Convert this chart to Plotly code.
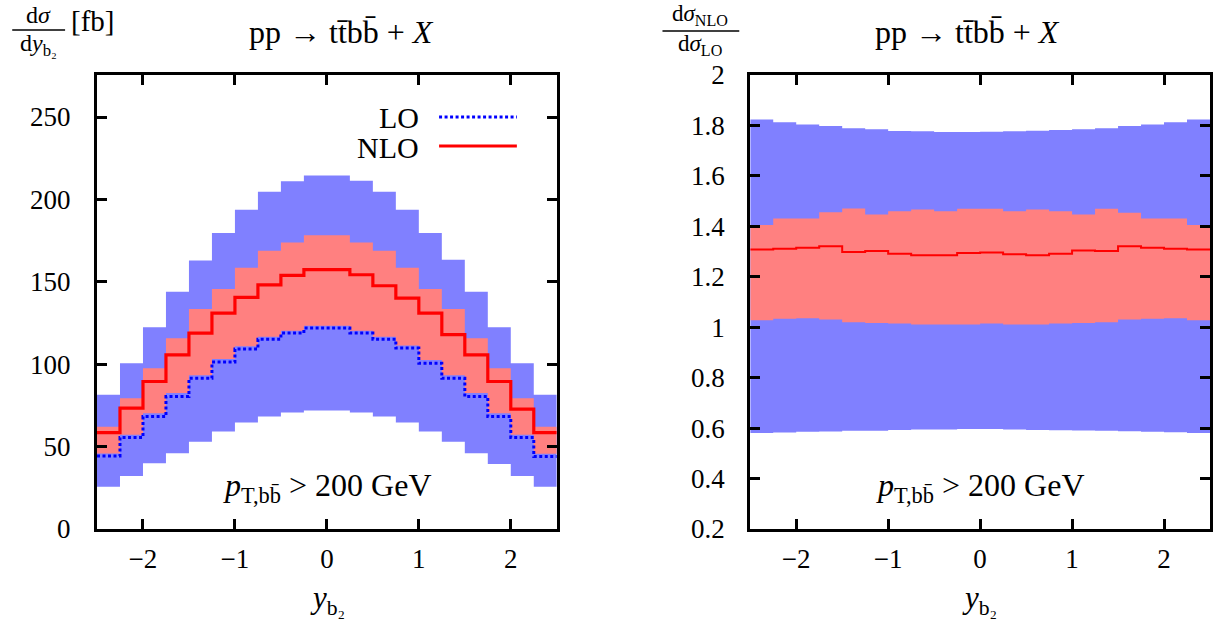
import plotly.graph_objects as go

# ---------------- data ----------------
bin_edges = [-2.5, -2.25, -2.0, -1.75, -1.5, -1.25, -1.0, -0.75, -0.5, -0.25, 0.0,
             0.25, 0.5, 0.75, 1.0, 1.25, 1.5, 1.75, 2.0, 2.25, 2.5]

lo_central = [44.3, 55.5, 68.2, 80.4, 91.5, 101.3, 109.2, 115.2, 118.9, 121.9,
              121.9, 118.9, 115.2, 109.8, 100.6, 91.5, 80.4, 68.2, 55.5, 44.0]
lo_upper = [81.4, 100.6, 122.5, 144.0, 163.0, 179.6, 193.8, 204.6, 211.0, 214.5,
            214.5, 211.4, 204.6, 193.8, 179.6, 163.4, 144.0, 122.5, 100.6, 81.4]
lo_lower = [25.7, 32.2, 39.9, 46.0, 53.0, 59.1, 64.6, 68.2, 70.7, 71.9,
            71.9, 70.7, 68.2, 64.6, 59.1, 53.0, 46.0, 39.5, 32.2, 25.7]
nlo_central = [58.5, 73.3, 89.5, 105.7, 118.9, 131.0, 140.5, 148.2, 153.9, 157.4,
               157.4, 154.3, 147.6, 140.1, 131.0, 117.9, 105.7, 89.5, 72.7, 58.5]
nlo_upper = [62.0, 79.4, 97.6, 115.8, 133.5, 145.6, 158.6, 168.9, 173.9, 178.2,
             178.2, 173.9, 168.9, 158.6, 145.6, 133.5, 115.8, 97.6, 79.4, 62.0]
nlo_lower = [45.8, 57.2, 70.2, 82.5, 93.3, 103.2, 110.9, 116.7, 120.3, 123.3,
             123.3, 120.3, 116.7, 111.3, 102.5, 93.3, 82.5, 70.2, 57.2, 45.6]

ratio_lo_upper = [1.824, 1.813, 1.804, 1.798, 1.789, 1.785, 1.778, 1.777, 1.774, 1.774,
                  1.775, 1.777, 1.779, 1.782, 1.785, 1.789, 1.798, 1.804, 1.813, 1.824]
ratio_lo_lower = [0.581, 0.583, 0.586, 0.587, 0.590, 0.590, 0.593, 0.594, 0.594, 0.596,
                  0.596, 0.594, 0.593, 0.592, 0.591, 0.590, 0.588, 0.586, 0.584, 0.581]
ratio_nlo_upper = [1.405, 1.431, 1.431, 1.456, 1.471, 1.447, 1.460, 1.467, 1.460, 1.470,
                   1.470, 1.460, 1.467, 1.460, 1.447, 1.470, 1.454, 1.431, 1.431, 1.405]
ratio_nlo_lower = [1.028, 1.034, 1.036, 1.031, 1.020, 1.017, 1.015, 1.011, 1.011, 1.011,
                   1.015, 1.011, 1.011, 1.015, 1.017, 1.020, 1.031, 1.034, 1.036, 1.028]
ratio_nlo_central = [1.308, 1.311, 1.315, 1.321, 1.298, 1.302, 1.291, 1.285, 1.285, 1.294,
                     1.296, 1.289, 1.285, 1.291, 1.304, 1.302, 1.321, 1.315, 1.311, 1.308]

x_ticks = [-2, -1, 0, 1, 2]
left_y_ticks = [0, 50, 100, 150, 200, 250]
right_y_ticks = [0.2, 0.4, 0.6, 0.8, 1.0, 1.2, 1.4, 1.6, 1.8, 2.0]
right_y_ticktext = ["0.2", "0.4", "0.6", "0.8", "1", "1.2", "1.4", "1.6", "1.8", "2"]

# ---------------- layout helpers ----------------
W, H = 1217, 625
ML, MR, MT, MB = 97, 4, 75, 96
PW, PH = W - ML - MR, H - MT - MB
FONT = "'Liberation Serif', 'Times New Roman', 'DejaVu Serif', serif"
BLUE_FILL = "#8080ff"
RED_FILL = "#ff8080"


def px(x):
    return (x - ML) / PW


def py(y):
    return (H - MB - y) / PH


def step(vals):
    return list(vals) + [vals[-1]]


fig = go.Figure()


def band(lower, upper, color, xa, ya):
    fig.add_trace(go.Scatter(x=bin_edges, y=step(lower), mode="lines",
                             line=dict(width=0, shape="hv"), xaxis=xa, yaxis=ya,
                             showlegend=False, hoverinfo="skip"))
    fig.add_trace(go.Scatter(x=bin_edges, y=step(upper), mode="lines",
                             line=dict(width=0, shape="hv"), fill="tonexty",
                             fillcolor=color, xaxis=xa, yaxis=ya,
                             showlegend=False, hoverinfo="skip"))


# left panel
band(lo_lower, lo_upper, BLUE_FILL, "x", "y")
band(nlo_lower, nlo_upper, RED_FILL, "x", "y")
fig.add_trace(go.Scatter(x=bin_edges, y=step(lo_central), mode="lines",
                         line=dict(color="#0000ff", width=3, shape="hv", dash="3px,2.5px"),
                         xaxis="x", yaxis="y", showlegend=False))
fig.add_trace(go.Scatter(x=bin_edges, y=step(nlo_central), mode="lines",
                         line=dict(color="#ff0000", width=3.2, shape="hv"),
                         xaxis="x", yaxis="y", showlegend=False))

# right panel
band(ratio_lo_lower, ratio_lo_upper, BLUE_FILL, "x2", "y2")
band(ratio_nlo_lower, ratio_nlo_upper, RED_FILL, "x2", "y2")
fig.add_trace(go.Scatter(x=bin_edges, y=step(ratio_nlo_central), mode="lines",
                         line=dict(color="#ff0000", width=2, shape="hv"),
                         xaxis="x2", yaxis="y2", showlegend=False))

axis_common = dict(showline=True, linewidth=3, linecolor="black", mirror="ticks",
                   ticks="inside", ticklen=10, tickwidth=2.5, tickcolor="black",
                   showgrid=False, zeroline=False,
                   tickfont=dict(family=FONT, size=27, color="black"))

x_dom_left = [0, px(558)]
x_dom_right = [px(752), 1]

fig.update_layout(
    width=W, height=H,
    margin=dict(l=ML, r=MR, t=MT, b=MB, pad=0),
    paper_bgcolor="white", plot_bgcolor="white",
    font=dict(family=FONT, color="black"),
    xaxis=dict(domain=x_dom_left, range=[-2.5, 2.5], tickvals=x_ticks,
               ticklabelstandoff=4, anchor="y", **axis_common),
    yaxis=dict(domain=[0, 1], range=[0, 275.5], tickvals=left_y_ticks,
               ticklabelstandoff=18, anchor="x", **axis_common),
    xaxis2=dict(domain=x_dom_right, range=[-2.5, 2.5], tickvals=x_ticks,
                ticklabelstandoff=4, anchor="y2", **axis_common),
    yaxis2=dict(domain=[0, 1], range=[0.2, 2.0], tickvals=right_y_ticks,
                ticktext=right_y_ticktext, ticklabelstandoff=17, anchor="x2",
                **axis_common),
    showlegend=False,
)

annotations = []
shapes = []


def text(x, y, s, size=26, xanchor="center"):
    annotations.append(dict(x=px(x), y=py(y), xref="paper", yref="paper", text=s,
                            showarrow=False, xanchor=xanchor, yanchor="middle",
                            font=dict(family=FONT, size=size, color="black")))


# titles
text(342, 32, "pp → tt̄bb̄ + <i>X</i>", size=32)
text(970, 32, "pp → tt̄bb̄ + <i>X</i>", size=32)

# cut annotations
text(328, 487, "<i>p</i><sub>T,bb̄</sub> > 200 GeV", size=32)
text(982, 487, "<i>p</i><sub>T,bb̄</sub> > 200 GeV", size=32)

# x axis titles
text(328, 600, "<i>y</i><sub>b₂</sub>", size=31)
text(982, 600, "<i>y</i><sub>b₂</sub>", size=31)

# left y label (fraction)
text(38, 15, "d<i>σ</i>", size=24)
text(38, 45, "d<i>y</i><sub>b₂</sub>", size=24)
text(92, 21, "[fb]", size=29)
shapes.append(dict(type="line", xref="paper", yref="paper", x0=px(12), x1=px(65),
                   y0=py(30), y1=py(30), line=dict(color="black", width=1.5)))

# right y label (fraction)
text(702, 15, "d<i>σ</i><sub>NLO</sub>", size=23)
text(702, 45, "d<i>σ</i><sub>LO</sub>", size=23)
shapes.append(dict(type="line", xref="paper", yref="paper", x0=px(664), x1=px(741),
                   y0=py(31), y1=py(31), line=dict(color="black", width=1.5)))

# legend
text(422, 117, "LO", size=30, xanchor="right")
text(422, 147, "NLO", size=30, xanchor="right")
shapes.append(dict(type="line", xref="paper", yref="paper", x0=px(440), x1=px(518),
                   y0=py(117), y1=py(117),
                   line=dict(color="#0000ff", width=3, dash="3px,2.5px")))
shapes.append(dict(type="line", xref="paper", yref="paper", x0=px(440), x1=px(518),
                   y0=py(146), y1=py(146), line=dict(color="#ff0000", width=3.2)))

fig.update_layout(annotations=annotations, shapes=shapes)

fig.write_html("out.html")
